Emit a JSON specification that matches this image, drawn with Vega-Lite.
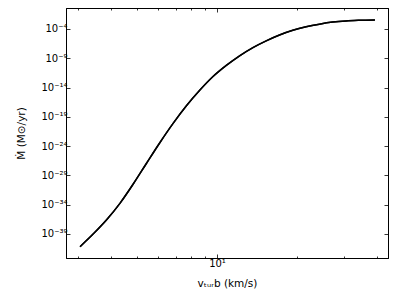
{
  "$schema": "https://vega.github.io/schema/vega-lite/v6.json",
  "width": 322,
  "height": 250,
  "autosize": "none",
  "padding": {"left": 66, "top": 8, "right": 11, "bottom": 41},
  "background": "white",
  "config": {
    "view": {"stroke": "black", "strokeWidth": 1},
    "axis": {
      "domainColor": "black",
      "domainWidth": 1,
      "tickColor": "black",
      "tickWidth": 0.8,
      "labelFont": "DejaVu Sans",
      "titleFont": "DejaVu Sans",
      "labelFontSize": 10,
      "titleFontSize": 10.5,
      "labelColor": "black",
      "titleColor": "black",
      "titleFontWeight": "normal",
      "grid": false
    }
  },
  "data": {
    "values": [
      {"v": 3.055, "mdot": 6.76e-42},
      {"v": 3.428, "mdot": 1.07e-39},
      {"v": 3.846, "mdot": 2.69e-37},
      {"v": 4.315, "mdot": 1.7e-34},
      {"v": 4.842, "mdot": 3.39e-31},
      {"v": 5.433, "mdot": 1.2e-27},
      {"v": 6.095, "mdot": 3.8e-24},
      {"v": 6.839, "mdot": 7.59e-21},
      {"v": 7.674, "mdot": 7.59e-18},
      {"v": 8.61, "mdot": 3.39e-15},
      {"v": 9.661, "mdot": 7.59e-13},
      {"v": 10.84, "mdot": 6.03e-11},
      {"v": 12.16, "mdot": 2.69e-9},
      {"v": 13.65, "mdot": 6.76e-8},
      {"v": 15.31, "mdot": 9.55e-7},
      {"v": 17.18, "mdot": 9.55e-6},
      {"v": 19.28, "mdot": 6.03e-5},
      {"v": 21.63, "mdot": 2.4e-4},
      {"v": 24.27, "mdot": 6.76e-4},
      {"v": 27.23, "mdot": 1.51e-3},
      {"v": 30.55, "mdot": 2.4e-3},
      {"v": 34.28, "mdot": 3.02e-3},
      {"v": 39.26, "mdot": 3.47e-3}
    ]
  },
  "layer": [
    {
      "mark": {"type": "line", "color": "black", "strokeWidth": 1.5, "interpolate": "monotone"},
      "encoding": {
        "x": {
          "field": "v", "type": "quantitative",
          "scale": {"type": "log", "domain": [2.705, 43.96], "nice": false},
          "axis": {
            "orient": "bottom",
            "values": [3, 4, 5, 6, 7, 8, 9, 10, 20, 30, 40],
            "labelExpr": "datum.value == 10 ? '10¹' : ''",
            "labelOverlap": false,
            "tickSize": {"condition": {"test": "datum.value == 10", "value": -4}, "value": -2},
            "labelPadding": 4,
            "title": "vₜᵤᵣb (km/s)",
            "titleY": 25,
            "titleBaseline": "middle"
          }
        },
        "y": {
          "field": "mdot", "type": "quantitative",
          "scale": {"type": "log", "domain": [7.9e-44, 0.385], "nice": false},
          "axis": {
            "orient": "left",
            "values": [1e-39, 1e-34, 1e-29, 1e-24, 1e-19, 1e-14, 1e-9, 1e-4],
            "labelExpr": "'10' + replace(replace(replace(replace(replace(replace(replace(replace(replace(replace(replace(toString(round(log(datum.value)/LN10)), '-', '⁻'), regexp('0','g'), '⁰'), regexp('1','g'), '¹'), regexp('2','g'), '²'), regexp('3','g'), '³'), regexp('4','g'), '⁴'), regexp('5','g'), '⁵'), regexp('6','g'), '⁶'), regexp('7','g'), '⁷'), regexp('8','g'), '⁸'), regexp('9','g'), '⁹')",
            "labelOverlap": false,
            "tickSize": -4,
            "labelPadding": 3,
            "title": "Ṁ (M⊙/yr)",
            "titleX": -45,
            "titleY": 125,
            "titleAlign": "center",
            "titleBaseline": "middle",
            "titleAngle": -90
          }
        }
      }
    },
    {
      "mark": {"type": "line", "color": "black", "strokeWidth": 1.5, "interpolate": "monotone"},
      "encoding": {
        "x": {
          "field": "v", "type": "quantitative",
          "axis": {
            "orient": "top",
            "values": [3, 4, 5, 6, 7, 8, 9, 10, 20, 30, 40],
            "labels": false,
            "tickSize": {"condition": {"test": "datum.value == 10", "value": -4}, "value": -2},
            "title": null
          }
        },
        "y": {
          "field": "mdot", "type": "quantitative",
          "axis": {
            "orient": "right",
            "values": [1e-39, 1e-34, 1e-29, 1e-24, 1e-19, 1e-14, 1e-9, 1e-4],
            "labels": false,
            "tickSize": -4,
            "title": null
          }
        }
      }
    }
  ],
  "resolve": {"axis": {"x": "independent", "y": "independent"}}
}
